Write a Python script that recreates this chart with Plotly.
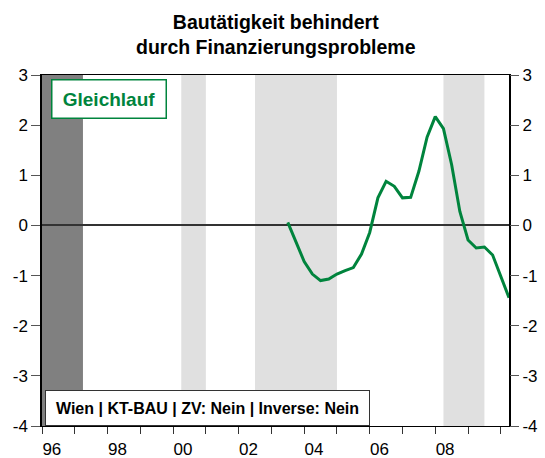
import plotly.graph_objects as go

# quarterly series (Wien, KT-BAU)
quarters = ['2003Q3', '2003Q4', '2004Q1', '2004Q2', '2004Q3', '2004Q4', '2005Q1', '2005Q2',
            '2005Q3', '2005Q4', '2006Q1', '2006Q2', '2006Q3', '2006Q4', '2007Q1', '2007Q2',
            '2007Q3', '2007Q4', '2008Q1', '2008Q2', '2008Q3', '2008Q4', '2009Q1', '2009Q2',
            '2009Q3', '2009Q4', '2010Q1', '2010Q2']
values = [0.06, -0.32, -0.72, -0.97, -1.10, -1.07, -0.97, -0.90,
          -0.84, -0.57, -0.14, 0.55, 0.88, 0.78, 0.55, 0.56,
          1.08, 1.76, 2.17, 1.93, 1.21, 0.28, -0.29, -0.45,
          -0.43, -0.59, -1.00, -1.44]

dark_periods = [('1996Q1', '1997Q2')]
light_periods = [('2000Q2', '2001Q1'), ('2002Q3', '2005Q1'), ('2008Q2', '2009Q3')]

tick_years = list(range(1996, 2011))
label_years = [1996, 1998, 2000, 2002, 2004, 2006, 2008]
label_text = ['96', '98', '00', '02', '04', '06', '08']
y_ticks = [-4, -3, -2, -1, 0, 1, 2, 3]
y_text = ['-4', '-3', '-2', '-1', '0', '1', '2', '3']


def qpos(q):
    return int(q[:4]) + (int(q[-1]) - 1) / 4


GREEN = '#00843D'
FONT = 'Liberation Sans, Arial, sans-serif'
x_range = [1996, 2010.25]
y_range = [-4, 3]

fig = go.Figure()
fig.add_trace(go.Scatter(x=[qpos(q) for q in quarters], y=values, mode='lines',
                         line=dict(color=GREEN, width=3), showlegend=False))
# helper trace so the second axes get drawn
fig.add_trace(go.Scatter(x=[1996], y=[0], xaxis='x2', yaxis='y2', mode='markers',
                         marker=dict(opacity=0), hoverinfo='skip', showlegend=False))

for a, b in dark_periods:
    fig.add_shape(type='rect', xref='x', yref='paper', x0=qpos(a), x1=qpos(b), y0=0, y1=1,
                  fillcolor='#808080', line_width=0, layer='below')
for a, b in light_periods:
    fig.add_shape(type='rect', xref='x', yref='paper', x0=qpos(a), x1=qpos(b), y0=0, y1=1,
                  fillcolor='#E0E0E0', line_width=0, layer='below')

fig.update_layout(
    width=545, height=458,
    margin=dict(l=42, r=36, t=75, b=32),
    plot_bgcolor='white', paper_bgcolor='white',
    font=dict(family=FONT, size=17, color='black'),
    xaxis=dict(range=x_range, tickvals=tick_years, showticklabels=False, ticks='outside',
               ticklen=7, tickcolor='#333', showgrid=False, zeroline=False, automargin=False,
               showline=True, linecolor='black', linewidth=1, mirror=True),
    xaxis2=dict(range=x_range, overlaying='x', anchor='y', side='bottom',
                tickvals=[y + 0.3 for y in label_years], ticktext=label_text,
                ticks='outside', ticklen=8, tickcolor='rgba(0,0,0,0)', automargin=False,
                showgrid=False, zeroline=False, showline=False),
    yaxis=dict(range=y_range, tickvals=y_ticks, ticktext=y_text, ticks='outside',
               ticklen=9, tickcolor='#555', showgrid=False, automargin=False,
               zeroline=True, zerolinecolor='#333', zerolinewidth=1.5,
               showline=True, linecolor='black', linewidth=1.5, mirror=True),
    yaxis2=dict(range=y_range, overlaying='y', anchor='x', side='right',
                tickvals=y_ticks, ticktext=y_text, ticks='outside', ticklen=9, automargin=False,
                tickcolor='#555', showgrid=False, zeroline=False, showline=False),
)

# title as an annotation so both lines sit where they should
fig.add_annotation(xref='paper', yref='paper', x=0.5, y=1.114, xanchor='center', yanchor='middle',
                   text='<b>Bautätigkeit behindert<br>durch Finanzierungsprobleme</b>',
                   showarrow=False, font=dict(size=19.5, color='black'))
fig.add_annotation(xref='paper', yref='paper', x=0.0186, y=0.9886, xanchor='left', yanchor='top',
                   text='<b>Gleichlauf</b>', showarrow=False,
                   font=dict(size=19, color=GREEN), bgcolor='white',
                   bordercolor=GREEN, borderwidth=1.5, borderpad=0, width=113, height=37)
fig.add_annotation(xref='paper', yref='paper', x=0.0064, y=0, xanchor='left', yanchor='bottom',
                   text='<b>Wien | KT-BAU | ZV: Nein | Inverse: Nein</b>', showarrow=False,
                   font=dict(size=16, color='black'), bgcolor='white',
                   bordercolor='#333', borderwidth=1, borderpad=0, width=323, height=34)

fig.write_html('out.html', config={'displayModeBar': False},
               post_script="document.body.style.margin='0';")
